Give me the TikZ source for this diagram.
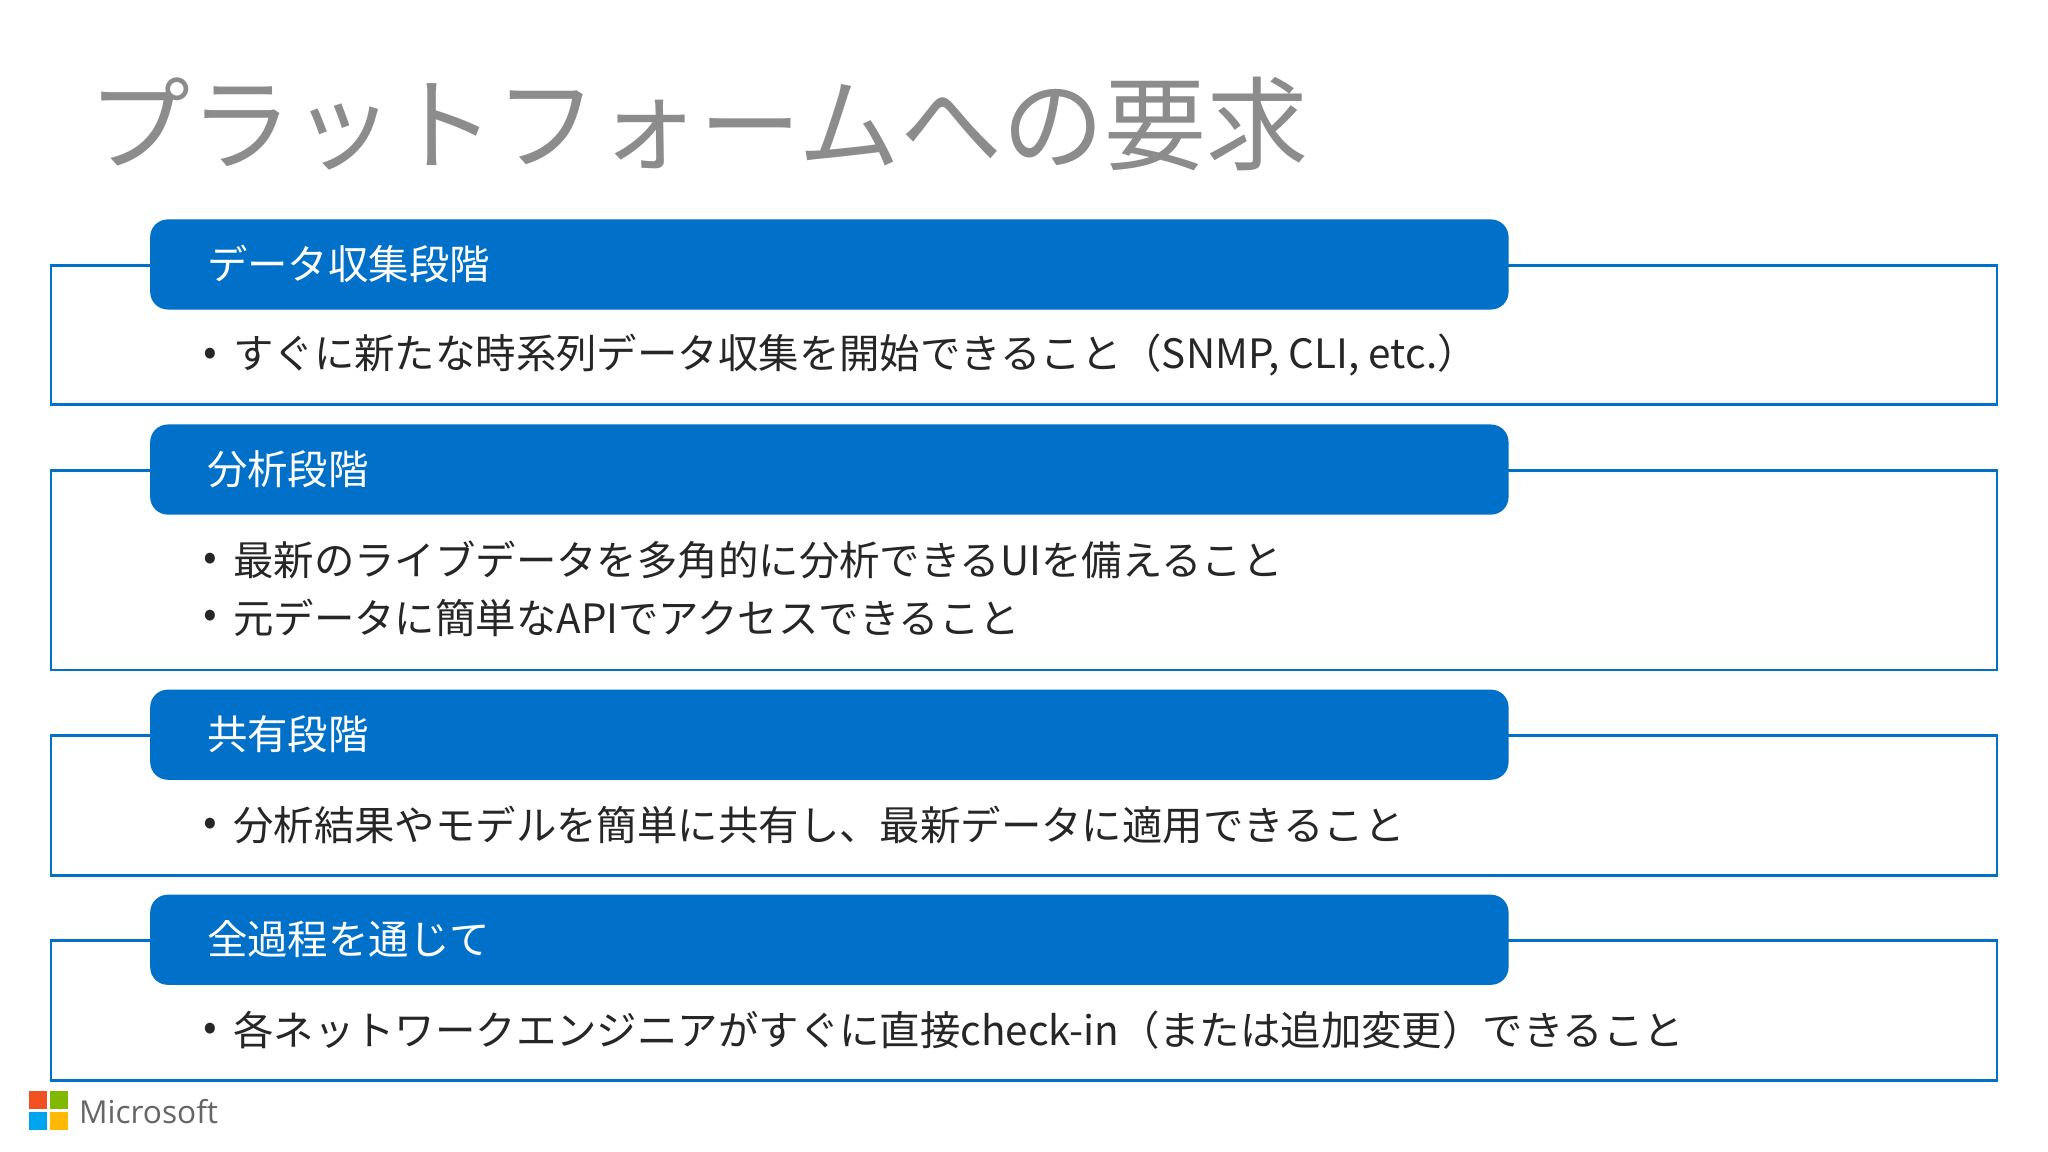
\documentclass[tikz,border=0pt]{standalone}
\usepackage{fontspec}
\setmainfont{Noto Sans CJK JP}
\newfontfamily\segoe{Open Sans}
\definecolor{msblue}{HTML}{0070C8}
\definecolor{titlegray}{HTML}{8C8C8C}
\begin{document}
\begin{tikzpicture}[x=0.013061cm,y=-0.013061cm,
  outline/.style={draw=msblue,line width=0.8pt,fill=white},
  header/.style={fill=msblue,rounded corners=5pt},
  htext/.style={anchor=west,inner sep=0,text=white,font=\fontsize{11.5pt}{13pt}\selectfont},
  btext/.style={anchor=west,inner sep=0,text=black!85,font=\fontsize{11.5pt}{13pt}\selectfont},
  bullet/.style={anchor=center,inner sep=0,text=black!85,font=\fontsize{11.5pt}{13pt}\selectfont}]
\useasboundingbox[fill=white] (0,0) rectangle (1568,882);
\node[anchor=west,inner sep=0,text=titlegray,font=\fontsize{29pt}{32pt}\selectfont] (title) at (67,95) {プラットフォームへの要求};
% boxes
\foreach \i/\ya/\yb/\ha in {1/203/310/168, 2/360/513/325, 3/563/670/528, 4/720/827/685}{
  \draw[outline] (39,\ya) rectangle (1529,\yb);
  \fill[header] (115,\ha) rectangle (1155,\ha+69);
}
\node[htext] (h1) at (158,202) {データ収集段階};
\node[htext] (h2) at (158,359) {分析段階};
\node[htext] (h3) at (158,562) {共有段階};
\node[htext] (h4) at (158,719) {全過程を通じて};
\node[bullet] (b1) at (161,273) {•};
\node[btext] (t1) at (178,272) {すぐに新たな時系列データ収集を開始できること（SNMP, CLI, etc.）};
\node[bullet] (b2) at (161,430) {•};
\node[btext] (t2) at (178,429) {最新のライブデータを多角的に分析できるUIを備えること};
\node[bullet] (b3) at (161,474) {•};
\node[btext] (t3) at (178,473) {元データに簡単なAPIでアクセスできること};
\node[bullet] (b4) at (161,633) {•};
\node[btext] (t4) at (178,632) {分析結果やモデルを簡単に共有し、最新データに適用できること};
\node[bullet] (b5) at (161,790) {•};
\node[btext] (t5) at (178,789) {各ネットワークエンジニアがすぐに直接check-in（または追加変更）できること};
% logo
\fill[fill={rgb,255:red,242;green,80;blue,34}] (22,835) rectangle (36,849);
\fill[fill={rgb,255:red,127;green,186;blue,0}] (38,835) rectangle (52,849);
\fill[fill={rgb,255:red,0;green,164;blue,239}] (22,851) rectangle (36,865);
\fill[fill={rgb,255:red,255;green,185;blue,0}] (38,851) rectangle (52,865);
\node[anchor=west,inner sep=0,text=black!60,font=\segoe\fontsize{9pt}{11pt}\selectfont] (ms) at (60,851) {Microsoft};
\end{tikzpicture}
\end{document}
